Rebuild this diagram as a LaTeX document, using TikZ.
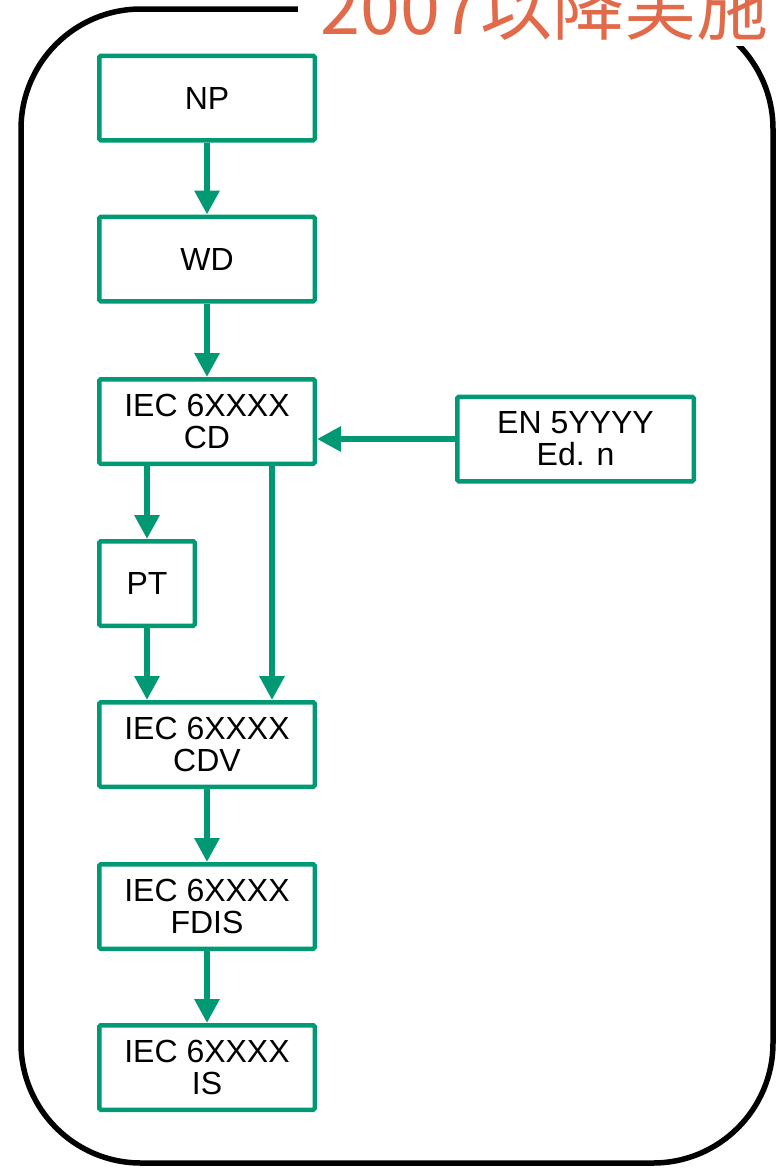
\documentclass[tikz,border=0pt]{standalone}
\usepackage{fontspec}
\setmainfont{Liberation Sans}
\newfontfamily\cjkfont{Noto Sans CJK JP}
\usetikzlibrary{arrows.meta}
\definecolor{boxgreen}{RGB}{0,153,115}
\definecolor{titleorange}{RGB}{224,106,74}
\tikzset{
  stepbox/.style={draw=boxgreen, line width=4.5pt, fill=white, inner sep=0pt,
    rounded corners=1.5pt,
    minimum width=215.5pt, minimum height=84.5pt, align=center,
    font=\fontsize{32}{32}\selectfont},
  flow/.style={draw=boxgreen, line width=6pt,
    -{Triangle[width=24pt,length=24pt]}, shorten >=0pt}
}
\begin{document}
\begin{tikzpicture}[x=1pt,y=-1pt]
\useasboundingbox (0,0) rectangle (782,1168);
\fill[white] (0,0) rectangle (782,1168);
% frame
\draw[line width=5.5pt, rounded corners=120pt] (21,9) rectangle (773,1163);
% title with white background
\fill[white] (298,-5) rectangle (790,46);
\node[anchor=base west, inner sep=0pt, text=titleorange,
  font=\cjkfont\fontsize{72}{72}\selectfont] (title) at (320,34) {2007以降実施};
% boxes
\node[stepbox] (np) at (207,98) {NP};
\node[stepbox] (wd) at (207,259) {WD};
\node[stepbox] (cd) at (207,421.5) {IEC 6XXXX\\CD};
\node[stepbox, minimum width=236.5pt] (en) at (575.5,439) {EN 5YYYY\\Ed. n};
\node[stepbox, minimum width=95.5pt] (pt) at (147,583.5) {PT};
\node[stepbox] (cdv) at (207,744.5) {IEC 6XXXX\\CDV};
\node[stepbox] (fdis) at (207,906.5) {IEC 6XXXX\\FDIS};
\node[stepbox] (is) at (207,1067.5) {IEC 6XXXX\\IS};
% connectors
\draw[flow] (np.south) -- (wd.north);
\draw[flow] (wd.south) -- (cd.north);
\draw[flow] (cd.south -| pt.north) -- (pt.north);
\draw[flow] (pt.south) -- (pt.south |- cdv.north);
\draw[flow] ([xshift=65pt]cd.south) -- ([xshift=65pt]cdv.north);
\draw[flow] (en.west |- 0,439) -- (cd.east |- 0,439);
\draw[flow] (cdv.south) -- (fdis.north);
\draw[flow] (fdis.south) -- (is.north);
\end{tikzpicture}
\end{document}
